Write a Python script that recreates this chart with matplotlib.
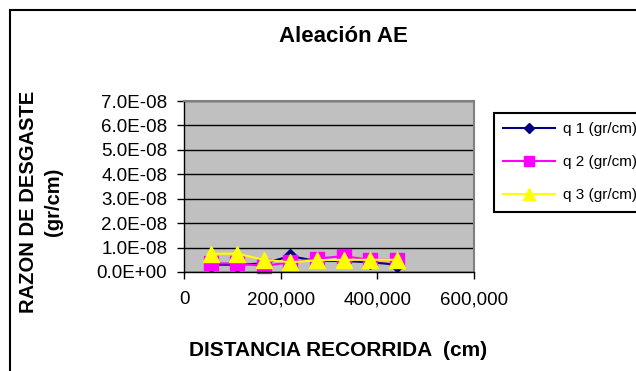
import matplotlib
matplotlib.use("Agg")
import matplotlib.pyplot as plt
from matplotlib.patches import Rectangle
from matplotlib.ticker import FuncFormatter, MultipleLocator

plt.rcParams['font.family'] = ['Liberation Sans', 'DejaVu Sans']

# Distance travelled (cm) and wear rate (gr/cm) for three series
distancia = [55000, 110000, 165000, 220000, 275000, 330000, 385000, 440000]
q1 = [0.30e-8, 0.30e-8, 0.35e-8, 0.65e-8, 0.45e-8, 0.45e-8, 0.40e-8, 0.30e-8]
q2 = [0.35e-8, 0.35e-8, 0.25e-8, 0.40e-8, 0.55e-8, 0.65e-8, 0.50e-8, 0.50e-8]
q3 = [0.75e-8, 0.75e-8, 0.50e-8, 0.40e-8, 0.48e-8, 0.50e-8, 0.50e-8, 0.50e-8]
series_labels = ['q 1 (gr/cm)', 'q 2 (gr/cm)', 'q 3 (gr/cm)']
x_ticks = [0, 200000, 400000, 600000]

W, H = 636, 371
fig = plt.figure(figsize=(W / 100, H / 100), dpi=100)
fig.patch.set_facecolor('white')

# chart frame (runs off the right and bottom edges)
fig.patches.append(Rectangle((10 / W, -0.2), 1.5, 1 - 10 / H + 0.2,
                             transform=fig.transFigure, fill=False,
                             edgecolor='black', linewidth=1.5))

ax = fig.add_axes([184 / W, 1 - 272 / H, 290 / W, 171 / H])
ax.set_facecolor('#C0C0C0')
ax.set_xlim(0, 600000)
ax.set_ylim(0, 7e-8)
ax.set_axisbelow(True)
ax.yaxis.set_major_locator(MultipleLocator(1e-8))
ax.set_xticks(x_ticks)
ax.yaxis.grid(True, color='black', linewidth=1)
ax.xaxis.grid(False)

ax.xaxis.set_major_formatter(FuncFormatter(lambda v, p: f"{int(v):,}"))
ax.yaxis.set_major_formatter(FuncFormatter(lambda v, p: f"{v:.1E}"))
ax.tick_params(axis='both', direction='out', length=5, width=1,
               color='black', labelsize=13.5)
ax.tick_params(axis='y', pad=7)
ax.tick_params(axis='x', pad=9)

for side in ('left', 'bottom'):
    ax.spines[side].set_color('black')
    ax.spines[side].set_linewidth(1)
for side in ('top', 'right'):
    ax.spines[side].set_color('#808080')
    ax.spines[side].set_linewidth(1.5)

h1, = ax.plot(distancia, q1, color='#000080', marker='D', markersize=7,
              linewidth=1.5, clip_on=False)
h2, = ax.plot(distancia, q2, color='#FF00FF', marker='s', markersize=10,
              linewidth=1.5, clip_on=False)
h3, = ax.plot(distancia, q3, color='#FFFF00', marker='^', markersize=12,
              linewidth=1.5, clip_on=False)

fig.text(343 / W, 1 - 37 / H, 'Aleación AE', ha='center', va='center',
         fontsize=16, fontweight='bold')
fig.text(41 / W, 1 - 202 / H, 'RAZON DE DESGASTE\n(gr/cm)', rotation=90,
         ha='center', va='center', multialignment='center',
         fontsize=14.5, fontweight='bold', linespacing=1.35)
fig.text(338 / W, 1 - 350 / H, 'DISTANCIA RECORRIDA  (cm)', ha='center',
         va='center', fontsize=15, fontweight='bold')

leg = fig.legend([h1, h2, h3], series_labels, loc='upper left',
                 bbox_to_anchor=(494 / W, 1 - 113 / H), fontsize=11,
                 frameon=True, fancybox=False, edgecolor='black',
                 framealpha=1, borderpad=0.6, handlelength=3.4,
                 handletextpad=0.5, labelspacing=1.25, markerscale=0.75,
                 borderaxespad=0)
leg.get_frame().set_linewidth(1.5)

fig.savefig('out.png', dpi=100)
